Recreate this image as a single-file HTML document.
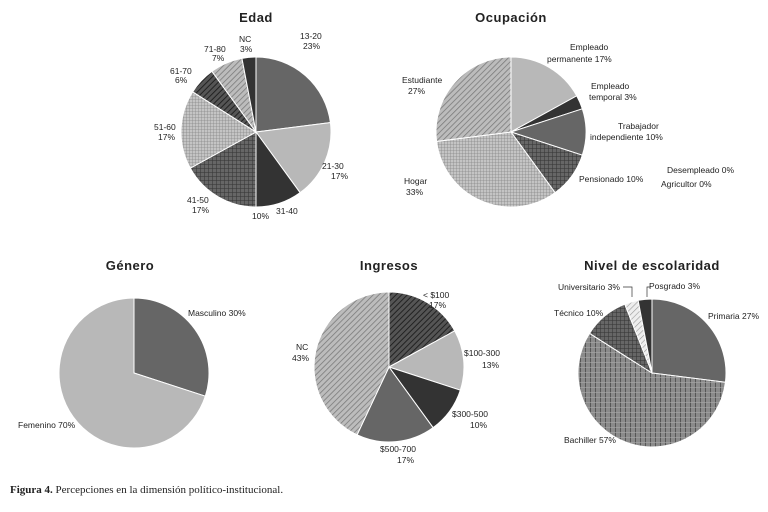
<!DOCTYPE html>
<html><head><meta charset="utf-8">
<style>
body{margin:0;background:#fff;}
svg{display:block;font-family:"Liberation Sans",sans-serif;}
.t{font-size:13px;font-weight:bold;fill:#222;text-anchor:middle;letter-spacing:0.5px}
.l{font-size:8.5px;fill:#222;}
.cap{font-family:"Liberation Serif",serif;font-size:11px;fill:#222}
</style></head>
<body>
<svg id="c" width="768" height="512" viewBox="0 0 768 512">
<defs>
<pattern id="pDiag" width="4" height="4" patternUnits="userSpaceOnUse" patternTransform="rotate(45)"><rect width="4" height="4" fill="#bcbcbc"/><line x1="0" y1="0" x2="0" y2="4" stroke="#777" stroke-width="1.5"/></pattern>
<pattern id="pDiagDark" width="4" height="4" patternUnits="userSpaceOnUse" patternTransform="rotate(45)"><rect width="4" height="4" fill="#555"/><line x1="0" y1="0" x2="0" y2="4" stroke="#222" stroke-width="2"/></pattern>
<pattern id="pGrid" width="3" height="3" patternUnits="userSpaceOnUse"><rect width="3" height="3" fill="#c4c4c4"/><path d="M0 0H3M0 0V3" stroke="#888" stroke-width="0.8"/></pattern>
<pattern id="pGridDark" width="4" height="4" patternUnits="userSpaceOnUse"><rect width="4" height="4" fill="#666"/><path d="M0 0H4M0 0V4" stroke="#333" stroke-width="1"/></pattern>
<pattern id="pVert" width="5" height="5" patternUnits="userSpaceOnUse"><rect width="5" height="5" fill="#8a8a8a"/><path d="M0 0V5" stroke="#333" stroke-width="1.2"/><path d="M0 2.5H5" stroke="#aaa" stroke-width="0.6"/></pattern>
<pattern id="pLight" width="4" height="4" patternUnits="userSpaceOnUse" patternTransform="rotate(45)"><rect width="4" height="4" fill="#eee"/><line x1="0" y1="0" x2="0" y2="4" stroke="#999" stroke-width="1.2"/></pattern>
</defs>
<text class="t" x="256" y="22">Edad</text>
<text class="t" x="511" y="22">Ocupación</text>
<text class="t" x="130" y="270">Género</text>
<text class="t" x="389" y="270">Ingresos</text>
<text class="t" x="652" y="270">Nivel de escolaridad</text>
<g id="pies"></g>
<g class="l">
<text x="300" y="39">13-20</text><text x="303" y="49">23%</text>
<text x="322" y="169">21-30</text><text x="331" y="179">17%</text>
<text x="276" y="214">31-40</text><text x="252" y="219">10%</text>
<text x="187" y="203">41-50</text><text x="192" y="213">17%</text>
<text x="154" y="130">51-60</text><text x="158" y="140">17%</text>
<text x="170" y="74">61-70</text><text x="175" y="83">6%</text>
<text x="204" y="52">71-80</text><text x="212" y="61">7%</text>
<text x="239" y="42">NC</text><text x="240" y="52">3%</text>
<text x="570" y="50">Empleado</text><text x="547" y="62">permanente 17%</text>
<text x="591" y="89">Empleado</text><text x="589" y="100">temporal 3%</text>
<text x="618" y="129">Trabajador</text><text x="590" y="140">independiente 10%</text>
<text x="579" y="182">Pensionado 10%</text>
<text x="667" y="173">Desempleado 0%</text>
<text x="661" y="187">Agricultor 0%</text>
<text x="404" y="184">Hogar</text><text x="406" y="195">33%</text>
<text x="402" y="83">Estudiante</text><text x="408" y="94">27%</text>
<text x="188" y="316">Masculino 30%</text>
<text x="18" y="428">Femenino 70%</text>
<text x="423" y="298">&lt; $100</text><text x="429" y="308">17%</text>
<text x="464" y="356">$100-300</text><text x="482" y="368">13%</text>
<text x="452" y="417">$300-500</text><text x="470" y="428">10%</text>
<text x="380" y="452">$500-700</text><text x="397" y="463">17%</text>
<text x="296" y="350">NC</text><text x="292" y="361">43%</text>
<text x="708" y="319">Primaria 27%</text>
<text x="564" y="443">Bachiller 57%</text>
<text x="554" y="316">Técnico 10%</text>
<text x="558" y="290">Universitario 3%</text>
<text x="649" y="289">Posgrado 3%</text>
</g>
<path d="M623 287H632V297M647 297V287H650" fill="none" stroke="#333" stroke-width="0.7"/>
<text class="cap" x="10" y="493"><tspan font-weight="bold">Figura 4.</tspan> Percepciones en la dimensión político-institucional.</text>
</svg>
<script>
const edadCats=["13-20","21-30","31-40","41-50","51-60","61-70","71-80","NC"];
const edadVals=[23,17,10,17,17,6,7,3];
const ocupCats=["Empleado permanente","Empleado temporal","Trabajador independiente","Pensionado","Hogar","Estudiante"];
const ocupVals=[17,3,10,10,33,27];
const generoCats=["Masculino","Femenino"];
const generoVals=[30,70];
const ingresosCats=["< $100","$100-300","$300-500","$500-700","NC"];
const ingresosVals=[17,13,10,17,43];
const escCats=["Primaria","Bachiller","Técnico","Universitario","Posgrado"];
const escVals=[27,57,10,3,3];

const NS="http://www.w3.org/2000/svg";
const g=document.getElementById("pies");
function pie(name,cats,vals,cx,cy,r,fills){
  const total=vals.reduce((a,b)=>a+b,0);
  let a0=0;
  const grp=document.createElementNS(NS,"g");
  
  
  g.appendChild(grp);
  vals.forEach((v,i)=>{
    const a1=a0+v/total*Math.PI*2;
    const x0=cx+r*Math.sin(a0),y0=cy-r*Math.cos(a0);
    const x1=cx+r*Math.sin(a1),y1=cy-r*Math.cos(a1);
    const p=document.createElementNS(NS,"path");
    const large=(a1-a0)>Math.PI?1:0;
    p.setAttribute("d",`M${cx} ${cy}L${x0} ${y0}A${r} ${r} 0 ${large} 1 ${x1} ${y1}Z`);
    p.setAttribute("fill",fills[i]);
    p.setAttribute("stroke","#fff");
    p.setAttribute("stroke-width","1");
    
    
    grp.appendChild(p);
    a0=a1;
  });
}
pie("edad",edadCats,edadVals,256,132,75,["#666","#b8b8b8","#333","url(#pGridDark)","url(#pGrid)","url(#pDiagDark)","url(#pDiag)","#333"]);
pie("ocupacion",ocupCats,ocupVals,511,132,75,["#b8b8b8","#333","#666","url(#pGridDark)","url(#pGrid)","url(#pDiag)"]);
pie("genero",generoCats,generoVals,134,373,75,["#666","#b8b8b8"]);
pie("ingresos",ingresosCats,ingresosVals,389,367,75,["url(#pDiagDark)","#b8b8b8","#333","#666","url(#pDiag)"]);
pie("escolaridad",escCats,escVals,652,373,74,["#666","url(#pVert)","url(#pGridDark)","url(#pLight)","#333"]);
</script>
</body></html>
